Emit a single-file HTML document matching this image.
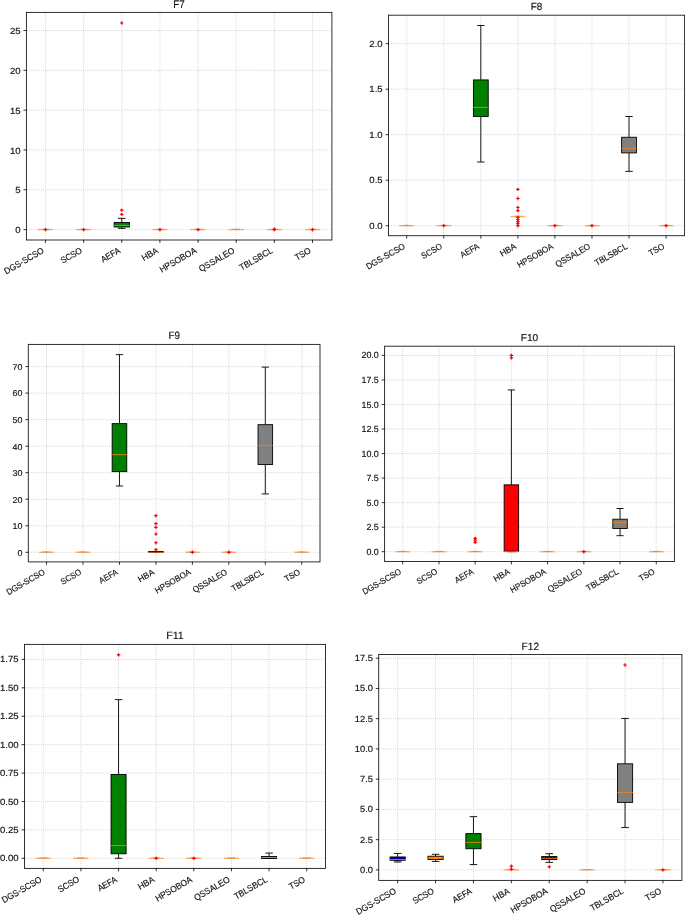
<!DOCTYPE html>
<html><head><meta charset="utf-8"><style>
html,body{margin:0;padding:0;background:#fff;width:685px;height:915px;overflow:hidden}
svg{display:block;will-change:transform}
text{text-rendering:geometricPrecision;font-family:"Liberation Sans",sans-serif;fill:#111;stroke:#111;stroke-width:0.15px}
</style></head><body>
<svg width="685" height="915" viewBox="0 0 685 915">
<rect width="685" height="915" fill="#fff"/>
<g>
<path d="M27 229.6H331.6 M27 189.78H331.6 M27 149.96H331.6 M27 110.14H331.6 M27 70.32H331.6 M27 30.5H331.6 M45.48 13V240 M83.62 13V240 M121.78 13V240 M159.93 13V240 M198.08 13V240 M236.23 13V240 M274.38 13V240 M312.53 13V240" stroke="#c8c8c8" stroke-width="0.7" stroke-dasharray="1 1" fill="none"/>
<path d="M41.66 229.25H49.29" stroke="#000" stroke-width="0.35" fill="none"/>
<path d="M37.84 229.6H53.11" stroke="#ff7f0e" stroke-width="1.4" stroke-opacity="0.62"/>
<path d="M43.77 229.6H47.18M45.48 227.9V231.3" stroke="#ff0000" stroke-width="1.2"/>
<path d="M79.81 229.25H87.44" stroke="#000" stroke-width="0.35" fill="none"/>
<path d="M76 229.6H91.25" stroke="#ff7f0e" stroke-width="1.4" stroke-opacity="0.62"/>
<path d="M81.92 229.6H85.33M83.62 227.9V231.3" stroke="#ff0000" stroke-width="1.2"/>
<path d="M121.78 222.51V218.37M121.78 226.97V228.33M117.96 218.37H125.59M117.96 228.33H125.59" stroke="#000" stroke-width="0.9" fill="none"/>
<rect x="114.15" y="222.51" width="15.26" height="4.46" fill="#008000" stroke="#000" stroke-width="0.9"/>
<path d="M113.85 225.46H129.71" stroke="#ff7f0e" stroke-width="1.0" stroke-opacity="0.8"/>
<path d="M120.08 210.17H123.48M121.78 208.47V211.87" stroke="#ff0000" stroke-width="1.2"/>
<path d="M120.08 214.47H123.48M121.78 212.77V216.17" stroke="#ff0000" stroke-width="1.2"/>
<path d="M120.08 23.01H123.48M121.78 21.31V24.71" stroke="#ff0000" stroke-width="1.2"/>
<path d="M156.11 229.25H163.74" stroke="#000" stroke-width="0.35" fill="none"/>
<path d="M152.3 229.6H167.56" stroke="#ff7f0e" stroke-width="1.4" stroke-opacity="0.62"/>
<path d="M158.23 229.6H161.63M159.93 227.9V231.3" stroke="#ff0000" stroke-width="1.2"/>
<path d="M194.26 229.25H201.89" stroke="#000" stroke-width="0.35" fill="none"/>
<path d="M190.45 229.6H205.71" stroke="#ff7f0e" stroke-width="1.4" stroke-opacity="0.62"/>
<path d="M196.38 229.6H199.78M198.08 227.9V231.3" stroke="#ff0000" stroke-width="1.2"/>
<path d="M232.41 229.25H240.04" stroke="#000" stroke-width="0.35" fill="none"/>
<path d="M228.6 229.6H243.86" stroke="#ff7f0e" stroke-width="1.4" stroke-opacity="0.62"/>
<path d="M270.56 229.25H278.19" stroke="#000" stroke-width="0.35" fill="none"/>
<path d="M266.75 229.6H282" stroke="#ff7f0e" stroke-width="1.4" stroke-opacity="0.62"/>
<path d="M272.68 229.6H276.07M274.38 227.9V231.3" stroke="#ff0000" stroke-width="1.2"/>
<path d="M272.68 229.2H276.07M274.38 227.5V230.9" stroke="#ff0000" stroke-width="1.2"/>
<path d="M308.71 229.25H316.34" stroke="#000" stroke-width="0.35" fill="none"/>
<path d="M304.9 229.6H320.16" stroke="#ff7f0e" stroke-width="1.4" stroke-opacity="0.62"/>
<path d="M310.83 229.6H314.23M312.53 227.9V231.3" stroke="#ff0000" stroke-width="1.2"/>
<rect x="26.4" y="12.4" width="305.5" height="227.6" fill="none" stroke="#1a1a1a" stroke-width="0.9"/>
<path d="M26.4 229.6H23.5 M26.4 189.78H23.5 M26.4 149.96H23.5 M26.4 110.14H23.5 M26.4 70.32H23.5 M26.4 30.5H23.5 M45.48 240V242.9 M83.62 240V242.9 M121.78 240V242.9 M159.93 240V242.9 M198.08 240V242.9 M236.23 240V242.9 M274.38 240V242.9 M312.53 240V242.9" stroke="#000" stroke-width="0.8"/>
<text x="20.6" y="233.15" text-anchor="end" font-size="8.87" textLength="5.33" lengthAdjust="spacingAndGlyphs">0</text>
<text x="20.6" y="193.33" text-anchor="end" font-size="8.87" textLength="5.33" lengthAdjust="spacingAndGlyphs">5</text>
<text x="20.6" y="153.51" text-anchor="end" font-size="8.87" textLength="10.65" lengthAdjust="spacingAndGlyphs">10</text>
<text x="20.6" y="113.69" text-anchor="end" font-size="8.87" textLength="10.65" lengthAdjust="spacingAndGlyphs">15</text>
<text x="20.6" y="73.87" text-anchor="end" font-size="8.87" textLength="10.65" lengthAdjust="spacingAndGlyphs">20</text>
<text x="20.6" y="34.05" text-anchor="end" font-size="8.87" textLength="10.65" lengthAdjust="spacingAndGlyphs">25</text>
<text transform="translate(44.58 252.3) rotate(-30)" text-anchor="end" font-size="8.87" textLength="44.32" lengthAdjust="spacingAndGlyphs">DGS-SCSO</text>
<text transform="translate(82.72 252.3) rotate(-30)" text-anchor="end" font-size="8.87" textLength="23.06" lengthAdjust="spacingAndGlyphs">SCSO</text>
<text transform="translate(120.88 252.3) rotate(-30)" text-anchor="end" font-size="8.87" textLength="20.79" lengthAdjust="spacingAndGlyphs">AEFA</text>
<text transform="translate(159.03 252.3) rotate(-30)" text-anchor="end" font-size="8.87" textLength="17.76" lengthAdjust="spacingAndGlyphs">HBA</text>
<text transform="translate(197.18 252.3) rotate(-30)" text-anchor="end" font-size="8.87" textLength="41" lengthAdjust="spacingAndGlyphs">HPSOBOA</text>
<text transform="translate(235.33 252.3) rotate(-30)" text-anchor="end" font-size="8.87" textLength="39.63" lengthAdjust="spacingAndGlyphs">QSSALEO</text>
<text transform="translate(273.48 252.3) rotate(-30)" text-anchor="end" font-size="8.87" textLength="36.93" lengthAdjust="spacingAndGlyphs">TBLSBCL</text>
<text transform="translate(311.63 252.3) rotate(-30)" text-anchor="end" font-size="8.87" textLength="17.01" lengthAdjust="spacingAndGlyphs">TSO</text>
<text x="179" y="7.8" text-anchor="middle" font-size="11.2" textLength="11.51" lengthAdjust="spacingAndGlyphs">F7</text>
<path d="M389 225.7H684.6 M389 180.2H684.6 M389 134.7H684.6 M389 89.2H684.6 M389 43.7H684.6 M406.72 16V235.7 M443.77 16V235.7 M480.82 16V235.7 M517.88 16V235.7 M554.92 16V235.7 M591.98 16V235.7 M629.02 16V235.7 M666.08 16V235.7" stroke="#c8c8c8" stroke-width="0.7" stroke-dasharray="1 1" fill="none"/>
<path d="M403.02 225.35H410.43" stroke="#000" stroke-width="0.35" fill="none"/>
<path d="M399.31 225.7H414.13" stroke="#ff7f0e" stroke-width="1.4" stroke-opacity="0.62"/>
<path d="M440.07 225.35H447.48" stroke="#000" stroke-width="0.35" fill="none"/>
<path d="M436.36 225.7H451.19" stroke="#ff7f0e" stroke-width="1.4" stroke-opacity="0.62"/>
<path d="M442.07 225.7H445.47M443.77 224V227.4" stroke="#ff0000" stroke-width="1.2"/>
<path d="M480.82 79.92V25.5M480.82 116.5V162M477.12 25.5H484.53M477.12 162H484.53" stroke="#000" stroke-width="0.9" fill="none"/>
<rect x="473.41" y="79.92" width="14.82" height="36.58" fill="#008000" stroke="#000" stroke-width="0.9"/>
<path d="M473.11 107.4H488.54" stroke="#ff7f0e" stroke-width="1.0" stroke-opacity="0.8"/>
<path d="M514.17 216.25H521.58" stroke="#000" stroke-width="0.35" fill="none"/>
<path d="M510.46 216.51H525.28" stroke="#ff7f0e" stroke-width="1.4" stroke-opacity="0.62"/>
<path d="M516.17 189.39H519.58M517.88 187.69V191.09" stroke="#ff0000" stroke-width="1.2"/>
<path d="M516.17 198.49H519.58M517.88 196.79V200.19" stroke="#ff0000" stroke-width="1.2"/>
<path d="M516.17 207.5H519.58M517.88 205.8V209.2" stroke="#ff0000" stroke-width="1.2"/>
<path d="M516.17 210.59H519.58M517.88 208.89V212.29" stroke="#ff0000" stroke-width="1.2"/>
<path d="M516.17 217.33H519.58M517.88 215.63V219.03" stroke="#ff0000" stroke-width="1.2"/>
<path d="M516.17 219.51H519.58M517.88 217.81V221.21" stroke="#ff0000" stroke-width="1.2"/>
<path d="M516.17 221.51H519.58M517.88 219.81V223.21" stroke="#ff0000" stroke-width="1.2"/>
<path d="M516.17 223.42H519.58M517.88 221.72V225.12" stroke="#ff0000" stroke-width="1.2"/>
<path d="M516.17 225.7H519.58M517.88 224V227.4" stroke="#ff0000" stroke-width="1.2"/>
<path d="M551.22 225.35H558.63" stroke="#000" stroke-width="0.35" fill="none"/>
<path d="M547.51 225.7H562.33" stroke="#ff7f0e" stroke-width="1.4" stroke-opacity="0.62"/>
<path d="M553.22 225.7H556.62M554.92 224V227.4" stroke="#ff0000" stroke-width="1.2"/>
<path d="M588.27 225.35H595.68" stroke="#000" stroke-width="0.35" fill="none"/>
<path d="M584.57 225.7H599.38" stroke="#ff7f0e" stroke-width="1.4" stroke-opacity="0.62"/>
<path d="M590.27 225.7H593.68M591.98 224V227.4" stroke="#ff0000" stroke-width="1.2"/>
<path d="M629.02 137.25V116.5M629.02 152.9V171.37M625.32 116.5H632.73M625.32 171.37H632.73" stroke="#000" stroke-width="0.9" fill="none"/>
<rect x="621.62" y="137.25" width="14.82" height="15.65" fill="#808080" stroke="#000" stroke-width="0.9"/>
<path d="M621.32 148.35H636.73" stroke="#ff7f0e" stroke-width="1.0" stroke-opacity="0.8"/>
<path d="M662.37 225.35H669.78" stroke="#000" stroke-width="0.35" fill="none"/>
<path d="M658.67 225.7H673.49" stroke="#ff7f0e" stroke-width="1.4" stroke-opacity="0.62"/>
<path d="M664.38 225.7H667.78M666.08 224V227.4" stroke="#ff0000" stroke-width="1.2"/>
<rect x="388.5" y="15.2" width="296.1" height="220.5" fill="none" stroke="#1a1a1a" stroke-width="0.9"/>
<path d="M388.5 225.7H385.6 M388.5 180.2H385.6 M388.5 134.7H385.6 M388.5 89.2H385.6 M388.5 43.7H385.6 M406.72 235.7V238.6 M443.77 235.7V238.6 M480.82 235.7V238.6 M517.88 235.7V238.6 M554.92 235.7V238.6 M591.98 235.7V238.6 M629.02 235.7V238.6 M666.08 235.7V238.6" stroke="#000" stroke-width="0.8"/>
<text x="382.7" y="228.75" text-anchor="end" font-size="8.87" textLength="13.31" lengthAdjust="spacingAndGlyphs">0.0</text>
<text x="382.7" y="183.25" text-anchor="end" font-size="8.87" textLength="13.31" lengthAdjust="spacingAndGlyphs">0.5</text>
<text x="382.7" y="137.75" text-anchor="end" font-size="8.87" textLength="13.31" lengthAdjust="spacingAndGlyphs">1.0</text>
<text x="382.7" y="92.25" text-anchor="end" font-size="8.87" textLength="13.31" lengthAdjust="spacingAndGlyphs">1.5</text>
<text x="382.7" y="46.75" text-anchor="end" font-size="8.87" textLength="13.31" lengthAdjust="spacingAndGlyphs">2.0</text>
<text transform="translate(405.82 248) rotate(-30)" text-anchor="end" font-size="8.69" textLength="43.44" lengthAdjust="spacingAndGlyphs">DGS-SCSO</text>
<text transform="translate(442.88 248) rotate(-30)" text-anchor="end" font-size="8.69" textLength="22.6" lengthAdjust="spacingAndGlyphs">SCSO</text>
<text transform="translate(479.93 248) rotate(-30)" text-anchor="end" font-size="8.69" textLength="20.37" lengthAdjust="spacingAndGlyphs">AEFA</text>
<text transform="translate(516.98 248) rotate(-30)" text-anchor="end" font-size="8.69" textLength="17.41" lengthAdjust="spacingAndGlyphs">HBA</text>
<text transform="translate(554.02 248) rotate(-30)" text-anchor="end" font-size="8.69" textLength="40.18" lengthAdjust="spacingAndGlyphs">HPSOBOA</text>
<text transform="translate(591.08 248) rotate(-30)" text-anchor="end" font-size="8.69" textLength="38.84" lengthAdjust="spacingAndGlyphs">QSSALEO</text>
<text transform="translate(628.12 248) rotate(-30)" text-anchor="end" font-size="8.69" textLength="36.19" lengthAdjust="spacingAndGlyphs">TBLSBCL</text>
<text transform="translate(665.18 248) rotate(-30)" text-anchor="end" font-size="8.69" textLength="16.67" lengthAdjust="spacingAndGlyphs">TSO</text>
<text x="536.4" y="10.3" text-anchor="middle" font-size="10.3" textLength="11.51" lengthAdjust="spacingAndGlyphs">F8</text>
<path d="M29 552.3H320 M29 525.77H320 M29 499.24H320 M29 472.71H320 M29 446.18H320 M29 419.65H320 M29 393.12H320 M29 366.59H320 M46.53 345V561.9 M82.99 345V561.9 M119.46 345V561.9 M155.92 345V561.9 M192.38 345V561.9 M228.84 345V561.9 M265.31 345V561.9 M301.77 345V561.9" stroke="#c8c8c8" stroke-width="0.7" stroke-dasharray="1 1" fill="none"/>
<path d="M42.88 551.95H50.18" stroke="#000" stroke-width="0.35" fill="none"/>
<path d="M39.24 552.3H53.82" stroke="#ff7f0e" stroke-width="1.4" stroke-opacity="0.62"/>
<path d="M79.35 551.95H86.64" stroke="#000" stroke-width="0.35" fill="none"/>
<path d="M75.7 552.3H90.29" stroke="#ff7f0e" stroke-width="1.4" stroke-opacity="0.62"/>
<path d="M119.46 423.63V354.65M119.46 471.65V485.97M115.81 354.65H123.1M115.81 485.97H123.1" stroke="#000" stroke-width="0.9" fill="none"/>
<rect x="112.16" y="423.63" width="14.59" height="48.02" fill="#008000" stroke="#000" stroke-width="0.9"/>
<path d="M111.86 454.67H127.05" stroke="#ff7f0e" stroke-width="1.0" stroke-opacity="0.8"/>
<path d="M155.92 551.5V551.5M155.92 552.3V552.3M152.27 551.5H159.56M152.27 552.3H159.56" stroke="#000" stroke-width="0.9" fill="none"/>
<rect x="148.63" y="551.5" width="14.59" height="0.8" fill="none" stroke="#000" stroke-width="0.9"/>
<path d="M148.33 552.3H163.51" stroke="#ff7f0e" stroke-width="1.0" stroke-opacity="0.8"/>
<path d="M154.22 515.69H157.62M155.92 513.99V517.39" stroke="#ff0000" stroke-width="1.2"/>
<path d="M154.22 523.65H157.62M155.92 521.95V525.35" stroke="#ff0000" stroke-width="1.2"/>
<path d="M154.22 527.36H157.62M155.92 525.66V529.06" stroke="#ff0000" stroke-width="1.2"/>
<path d="M154.22 533.99H157.62M155.92 532.29V535.69" stroke="#ff0000" stroke-width="1.2"/>
<path d="M154.22 542.75H157.62M155.92 541.05V544.45" stroke="#ff0000" stroke-width="1.2"/>
<path d="M154.22 549.65H157.62M155.92 547.95V551.35" stroke="#ff0000" stroke-width="1.2"/>
<path d="M188.73 551.95H196.03" stroke="#000" stroke-width="0.35" fill="none"/>
<path d="M185.09 552.3H199.67" stroke="#ff7f0e" stroke-width="1.4" stroke-opacity="0.62"/>
<path d="M190.68 552.3H194.08M192.38 550.6V554" stroke="#ff0000" stroke-width="1.2"/>
<path d="M225.2 551.95H232.49" stroke="#000" stroke-width="0.35" fill="none"/>
<path d="M221.55 552.3H236.14" stroke="#ff7f0e" stroke-width="1.4" stroke-opacity="0.62"/>
<path d="M227.14 552.3H230.54M228.84 550.6V554" stroke="#ff0000" stroke-width="1.2"/>
<path d="M265.31 424.69V367.12M265.31 464.49V493.93M261.66 367.12H268.95M261.66 493.93H268.95" stroke="#000" stroke-width="0.9" fill="none"/>
<rect x="258.01" y="424.69" width="14.59" height="39.8" fill="#808080" stroke="#000" stroke-width="0.9"/>
<path d="M257.71 445.65H272.9" stroke="#ff7f0e" stroke-width="1.0" stroke-opacity="0.8"/>
<path d="M298.12 551.95H305.42" stroke="#000" stroke-width="0.35" fill="none"/>
<path d="M294.48 552.3H309.06" stroke="#ff7f0e" stroke-width="1.4" stroke-opacity="0.62"/>
<rect x="28.3" y="344.4" width="291.7" height="217.5" fill="none" stroke="#1a1a1a" stroke-width="0.9"/>
<path d="M28.3 552.3H25.4 M28.3 525.77H25.4 M28.3 499.24H25.4 M28.3 472.71H25.4 M28.3 446.18H25.4 M28.3 419.65H25.4 M28.3 393.12H25.4 M28.3 366.59H25.4 M46.53 561.9V564.8 M82.99 561.9V564.8 M119.46 561.9V564.8 M155.92 561.9V564.8 M192.38 561.9V564.8 M228.84 561.9V564.8 M265.31 561.9V564.8 M301.77 561.9V564.8" stroke="#000" stroke-width="0.8"/>
<text x="22.5" y="555.65" text-anchor="end" font-size="8.51" textLength="4.95" lengthAdjust="spacingAndGlyphs">0</text>
<text x="22.5" y="529.12" text-anchor="end" font-size="8.51" textLength="9.91" lengthAdjust="spacingAndGlyphs">10</text>
<text x="22.5" y="502.59" text-anchor="end" font-size="8.51" textLength="9.91" lengthAdjust="spacingAndGlyphs">20</text>
<text x="22.5" y="476.06" text-anchor="end" font-size="8.51" textLength="9.91" lengthAdjust="spacingAndGlyphs">30</text>
<text x="22.5" y="449.53" text-anchor="end" font-size="8.51" textLength="9.91" lengthAdjust="spacingAndGlyphs">40</text>
<text x="22.5" y="423" text-anchor="end" font-size="8.51" textLength="9.91" lengthAdjust="spacingAndGlyphs">50</text>
<text x="22.5" y="396.47" text-anchor="end" font-size="8.51" textLength="9.91" lengthAdjust="spacingAndGlyphs">60</text>
<text x="22.5" y="369.94" text-anchor="end" font-size="8.51" textLength="9.91" lengthAdjust="spacingAndGlyphs">70</text>
<text transform="translate(45.63 573.8) rotate(-30)" text-anchor="end" font-size="8.6" textLength="42.99" lengthAdjust="spacingAndGlyphs">DGS-SCSO</text>
<text transform="translate(82.09 573.8) rotate(-30)" text-anchor="end" font-size="8.6" textLength="22.37" lengthAdjust="spacingAndGlyphs">SCSO</text>
<text transform="translate(118.56 573.8) rotate(-30)" text-anchor="end" font-size="8.6" textLength="20.16" lengthAdjust="spacingAndGlyphs">AEFA</text>
<text transform="translate(155.02 573.8) rotate(-30)" text-anchor="end" font-size="8.6" textLength="17.23" lengthAdjust="spacingAndGlyphs">HBA</text>
<text transform="translate(191.48 573.8) rotate(-30)" text-anchor="end" font-size="8.6" textLength="39.77" lengthAdjust="spacingAndGlyphs">HPSOBOA</text>
<text transform="translate(227.94 573.8) rotate(-30)" text-anchor="end" font-size="8.6" textLength="38.45" lengthAdjust="spacingAndGlyphs">QSSALEO</text>
<text transform="translate(264.41 573.8) rotate(-30)" text-anchor="end" font-size="8.6" textLength="35.83" lengthAdjust="spacingAndGlyphs">TBLSBCL</text>
<text transform="translate(300.87 573.8) rotate(-30)" text-anchor="end" font-size="8.6" textLength="16.5" lengthAdjust="spacingAndGlyphs">TSO</text>
<text x="174.15" y="339.4" text-anchor="middle" font-size="10.6" textLength="11.51" lengthAdjust="spacingAndGlyphs">F9</text>
<path d="M385 551.7H674.4 M385 527.16H674.4 M385 502.63H674.4 M385 478.09H674.4 M385 453.55H674.4 M385 429.01H674.4 M385 404.48H674.4 M385 379.94H674.4 M385 355.4H674.4 M402.71 347V561.5 M438.94 347V561.5 M475.16 347V561.5 M511.39 347V561.5 M547.61 347V561.5 M583.84 347V561.5 M620.06 347V561.5 M656.29 347V561.5" stroke="#c8c8c8" stroke-width="0.7" stroke-dasharray="1 1" fill="none"/>
<path d="M399.09 551.35H406.34" stroke="#000" stroke-width="0.35" fill="none"/>
<path d="M395.47 551.7H409.96" stroke="#ff7f0e" stroke-width="1.4" stroke-opacity="0.62"/>
<path d="M435.31 551.35H442.56" stroke="#000" stroke-width="0.35" fill="none"/>
<path d="M431.69 551.7H446.18" stroke="#ff7f0e" stroke-width="1.4" stroke-opacity="0.62"/>
<path d="M471.54 551.35H478.79" stroke="#000" stroke-width="0.35" fill="none"/>
<path d="M467.92 551.7H482.41" stroke="#ff7f0e" stroke-width="1.4" stroke-opacity="0.62"/>
<path d="M473.46 538.35H476.86M475.16 536.65V540.05" stroke="#ff0000" stroke-width="1.2"/>
<path d="M473.46 540.22H476.86M475.16 538.52V541.92" stroke="#ff0000" stroke-width="1.2"/>
<path d="M473.46 542.28H476.86M475.16 540.58V543.98" stroke="#ff0000" stroke-width="1.2"/>
<path d="M511.39 484.86V389.95M511.39 551.21V551.7M507.76 389.95H515.01M507.76 551.7H515.01" stroke="#000" stroke-width="0.9" fill="none"/>
<rect x="504.14" y="484.86" width="14.49" height="66.35" fill="#ff0000" stroke="#000" stroke-width="0.9"/>
<path d="M503.84 551.7H518.93" stroke="#ff7f0e" stroke-width="1.0" stroke-opacity="0.8"/>
<path d="M509.69 355.4H513.09M511.39 353.7V357.1" stroke="#ff0000" stroke-width="1.2"/>
<path d="M509.69 357.85H513.09M511.39 356.15V359.55" stroke="#ff0000" stroke-width="1.2"/>
<path d="M543.99 551.35H551.23" stroke="#000" stroke-width="0.35" fill="none"/>
<path d="M540.37 551.7H554.86" stroke="#ff7f0e" stroke-width="1.4" stroke-opacity="0.62"/>
<path d="M580.22 551.35H587.46" stroke="#000" stroke-width="0.35" fill="none"/>
<path d="M576.59 551.7H591.08" stroke="#ff7f0e" stroke-width="1.4" stroke-opacity="0.62"/>
<path d="M582.14 551.7H585.54M583.84 550V553.4" stroke="#ff0000" stroke-width="1.2"/>
<path d="M620.06 519.21V508.51M620.06 528.54V535.7M616.44 508.51H623.68M616.44 535.7H623.68" stroke="#000" stroke-width="0.9" fill="none"/>
<rect x="612.82" y="519.21" width="14.49" height="9.32" fill="#808080" stroke="#000" stroke-width="0.9"/>
<path d="M612.52 522.45H627.61" stroke="#ff7f0e" stroke-width="1.0" stroke-opacity="0.8"/>
<path d="M652.66 551.35H659.91" stroke="#000" stroke-width="0.35" fill="none"/>
<path d="M649.04 551.7H663.53" stroke="#ff7f0e" stroke-width="1.4" stroke-opacity="0.62"/>
<rect x="384.6" y="346.2" width="289.8" height="215.3" fill="none" stroke="#1a1a1a" stroke-width="0.9"/>
<path d="M384.6 551.7H381.7 M384.6 527.16H381.7 M384.6 502.63H381.7 M384.6 478.09H381.7 M384.6 453.55H381.7 M384.6 429.01H381.7 M384.6 404.48H381.7 M384.6 379.94H381.7 M384.6 355.4H381.7 M402.71 561.5V564.4 M438.94 561.5V564.4 M475.16 561.5V564.4 M511.39 561.5V564.4 M547.61 561.5V564.4 M583.84 561.5V564.4 M620.06 561.5V564.4 M656.29 561.5V564.4" stroke="#000" stroke-width="0.8"/>
<text x="378.8" y="554.75" text-anchor="end" font-size="8.87" textLength="12.38" lengthAdjust="spacingAndGlyphs">0.0</text>
<text x="378.8" y="530.21" text-anchor="end" font-size="8.87" textLength="12.38" lengthAdjust="spacingAndGlyphs">2.5</text>
<text x="378.8" y="505.68" text-anchor="end" font-size="8.87" textLength="12.38" lengthAdjust="spacingAndGlyphs">5.0</text>
<text x="378.8" y="481.14" text-anchor="end" font-size="8.87" textLength="12.38" lengthAdjust="spacingAndGlyphs">7.5</text>
<text x="378.8" y="456.6" text-anchor="end" font-size="8.87" textLength="17.33" lengthAdjust="spacingAndGlyphs">10.0</text>
<text x="378.8" y="432.06" text-anchor="end" font-size="8.87" textLength="17.33" lengthAdjust="spacingAndGlyphs">12.5</text>
<text x="378.8" y="407.53" text-anchor="end" font-size="8.87" textLength="17.33" lengthAdjust="spacingAndGlyphs">15.0</text>
<text x="378.8" y="382.99" text-anchor="end" font-size="8.87" textLength="17.33" lengthAdjust="spacingAndGlyphs">17.5</text>
<text x="378.8" y="358.45" text-anchor="end" font-size="8.87" textLength="17.33" lengthAdjust="spacingAndGlyphs">20.0</text>
<text transform="translate(401.81 573.3) rotate(-30)" text-anchor="end" font-size="8.6" textLength="42.99" lengthAdjust="spacingAndGlyphs">DGS-SCSO</text>
<text transform="translate(438.04 573.3) rotate(-30)" text-anchor="end" font-size="8.6" textLength="22.37" lengthAdjust="spacingAndGlyphs">SCSO</text>
<text transform="translate(474.26 573.3) rotate(-30)" text-anchor="end" font-size="8.6" textLength="20.16" lengthAdjust="spacingAndGlyphs">AEFA</text>
<text transform="translate(510.49 573.3) rotate(-30)" text-anchor="end" font-size="8.6" textLength="17.23" lengthAdjust="spacingAndGlyphs">HBA</text>
<text transform="translate(546.71 573.3) rotate(-30)" text-anchor="end" font-size="8.6" textLength="39.77" lengthAdjust="spacingAndGlyphs">HPSOBOA</text>
<text transform="translate(582.94 573.3) rotate(-30)" text-anchor="end" font-size="8.6" textLength="38.45" lengthAdjust="spacingAndGlyphs">QSSALEO</text>
<text transform="translate(619.16 573.3) rotate(-30)" text-anchor="end" font-size="8.6" textLength="35.83" lengthAdjust="spacingAndGlyphs">TBLSBCL</text>
<text transform="translate(655.39 573.3) rotate(-30)" text-anchor="end" font-size="8.6" textLength="16.5" lengthAdjust="spacingAndGlyphs">TSO</text>
<text x="529.5" y="341.3" text-anchor="middle" font-size="10.1" textLength="17.55" lengthAdjust="spacingAndGlyphs">F10</text>
<path d="M25 858.3H325.5 M25 829.88H325.5 M25 801.47H325.5 M25 773.05H325.5 M25 744.64H325.5 M25 716.22H325.5 M25 687.81H325.5 M25 659.39H325.5 M43.31 645V868.4 M80.94 645V868.4 M118.56 645V868.4 M156.19 645V868.4 M193.81 645V868.4 M231.44 645V868.4 M269.06 645V868.4 M306.69 645V868.4" stroke="#c8c8c8" stroke-width="0.7" stroke-dasharray="1 1" fill="none"/>
<path d="M39.55 857.95H47.08" stroke="#000" stroke-width="0.35" fill="none"/>
<path d="M35.79 858.3H50.84" stroke="#ff7f0e" stroke-width="1.4" stroke-opacity="0.62"/>
<path d="M77.17 857.95H84.7" stroke="#000" stroke-width="0.35" fill="none"/>
<path d="M73.41 858.3H88.46" stroke="#ff7f0e" stroke-width="1.4" stroke-opacity="0.62"/>
<path d="M118.56 774.53V699.63M118.56 853.75V858.3M114.8 699.63H122.33M114.8 858.3H122.33" stroke="#000" stroke-width="0.9" fill="none"/>
<rect x="111.04" y="774.53" width="15.05" height="79.22" fill="#008000" stroke="#000" stroke-width="0.9"/>
<path d="M110.74 845.57H126.39" stroke="#ff7f0e" stroke-width="1.0" stroke-opacity="0.8"/>
<path d="M116.86 654.85H120.26M118.56 653.15V656.55" stroke="#ff0000" stroke-width="1.2"/>
<path d="M152.43 857.95H159.95" stroke="#000" stroke-width="0.35" fill="none"/>
<path d="M148.66 858.3H163.71" stroke="#ff7f0e" stroke-width="1.4" stroke-opacity="0.62"/>
<path d="M154.49 858.3H157.89M156.19 856.6V860" stroke="#ff0000" stroke-width="1.2"/>
<path d="M190.05 857.95H197.57" stroke="#000" stroke-width="0.35" fill="none"/>
<path d="M186.29 858.3H201.34" stroke="#ff7f0e" stroke-width="1.4" stroke-opacity="0.62"/>
<path d="M192.11 858.3H195.51M193.81 856.6V860" stroke="#ff0000" stroke-width="1.2"/>
<path d="M227.68 857.95H235.2" stroke="#000" stroke-width="0.35" fill="none"/>
<path d="M223.91 858.3H238.96" stroke="#ff7f0e" stroke-width="1.4" stroke-opacity="0.62"/>
<path d="M269.06 856.48V853.07M269.06 858.53V858.3M265.3 853.07H272.82M265.3 858.3H272.82" stroke="#000" stroke-width="0.9" fill="none"/>
<rect x="261.54" y="856.48" width="15.05" height="2.05" fill="#808080" stroke="#000" stroke-width="0.9"/>
<path d="M261.24 857.5H276.89" stroke="#ff7f0e" stroke-width="1.0" stroke-opacity="0.8"/>
<path d="M302.93 857.95H310.45" stroke="#000" stroke-width="0.35" fill="none"/>
<path d="M299.16 858.3H314.21" stroke="#ff7f0e" stroke-width="1.4" stroke-opacity="0.62"/>
<rect x="24.5" y="644.4" width="301" height="224" fill="none" stroke="#1a1a1a" stroke-width="0.9"/>
<path d="M24.5 858.3H21.6 M24.5 829.88H21.6 M24.5 801.47H21.6 M24.5 773.05H21.6 M24.5 744.64H21.6 M24.5 716.22H21.6 M24.5 687.81H21.6 M24.5 659.39H21.6 M43.31 868.4V871.3 M80.94 868.4V871.3 M118.56 868.4V871.3 M156.19 868.4V871.3 M193.81 868.4V871.3 M231.44 868.4V871.3 M269.06 868.4V871.3 M306.69 868.4V871.3" stroke="#000" stroke-width="0.8"/>
<text x="18.7" y="861.35" text-anchor="end" font-size="8.87" textLength="18.64" lengthAdjust="spacingAndGlyphs">0.00</text>
<text x="18.7" y="832.93" text-anchor="end" font-size="8.87" textLength="18.64" lengthAdjust="spacingAndGlyphs">0.25</text>
<text x="18.7" y="804.52" text-anchor="end" font-size="8.87" textLength="18.64" lengthAdjust="spacingAndGlyphs">0.50</text>
<text x="18.7" y="776.1" text-anchor="end" font-size="8.87" textLength="18.64" lengthAdjust="spacingAndGlyphs">0.75</text>
<text x="18.7" y="747.69" text-anchor="end" font-size="8.87" textLength="18.64" lengthAdjust="spacingAndGlyphs">1.00</text>
<text x="18.7" y="719.27" text-anchor="end" font-size="8.87" textLength="18.64" lengthAdjust="spacingAndGlyphs">1.25</text>
<text x="18.7" y="690.86" text-anchor="end" font-size="8.87" textLength="18.64" lengthAdjust="spacingAndGlyphs">1.50</text>
<text x="18.7" y="662.44" text-anchor="end" font-size="8.87" textLength="18.64" lengthAdjust="spacingAndGlyphs">1.75</text>
<text transform="translate(42.41 881.2) rotate(-30)" text-anchor="end" font-size="8.87" textLength="44.32" lengthAdjust="spacingAndGlyphs">DGS-SCSO</text>
<text transform="translate(80.04 881.2) rotate(-30)" text-anchor="end" font-size="8.87" textLength="23.06" lengthAdjust="spacingAndGlyphs">SCSO</text>
<text transform="translate(117.66 881.2) rotate(-30)" text-anchor="end" font-size="8.87" textLength="20.79" lengthAdjust="spacingAndGlyphs">AEFA</text>
<text transform="translate(155.29 881.2) rotate(-30)" text-anchor="end" font-size="8.87" textLength="17.76" lengthAdjust="spacingAndGlyphs">HBA</text>
<text transform="translate(192.91 881.2) rotate(-30)" text-anchor="end" font-size="8.87" textLength="41" lengthAdjust="spacingAndGlyphs">HPSOBOA</text>
<text transform="translate(230.54 881.2) rotate(-30)" text-anchor="end" font-size="8.87" textLength="39.63" lengthAdjust="spacingAndGlyphs">QSSALEO</text>
<text transform="translate(268.16 881.2) rotate(-30)" text-anchor="end" font-size="8.87" textLength="36.93" lengthAdjust="spacingAndGlyphs">TBLSBCL</text>
<text transform="translate(305.79 881.2) rotate(-30)" text-anchor="end" font-size="8.87" textLength="17.01" lengthAdjust="spacingAndGlyphs">TSO</text>
<text x="175" y="639.4" text-anchor="middle" font-size="10.6" textLength="17.55" lengthAdjust="spacingAndGlyphs">F11</text>
<path d="M379 869.9H681.9 M379 839.66H681.9 M379 809.41H681.9 M379 779.17H681.9 M379 748.93H681.9 M379 718.69H681.9 M379 688.44H681.9 M379 658.2H681.9 M397.65 655V880.4 M435.55 655V880.4 M473.45 655V880.4 M511.35 655V880.4 M549.25 655V880.4 M587.15 655V880.4 M625.05 655V880.4 M662.95 655V880.4" stroke="#c8c8c8" stroke-width="0.7" stroke-dasharray="1 1" fill="none"/>
<path d="M397.65 856.96V853.45M393.86 853.45H401.44" stroke="#000" stroke-width="0.9" fill="none"/>
<rect x="393.86" y="860.22" width="7.58" height="2.54" fill="#6e6e6e"/>
<path d="M397.65 860.22V861.42" stroke="#000" stroke-width="0.9"/>
<rect x="390.07" y="856.96" width="15.16" height="3.27" fill="#0000b0" stroke="#000" stroke-width="0.9"/>
<path d="M389.77 859.5H405.53" stroke="#ff7f0e" stroke-width="1.0" stroke-opacity="0.8"/>
<path d="M435.55 856.23V854.29M435.55 859.5V861.43M431.76 854.29H439.34M431.76 861.43H439.34" stroke="#000" stroke-width="0.9" fill="none"/>
<rect x="427.97" y="856.23" width="15.16" height="3.27" fill="#ff8c00" stroke="#000" stroke-width="0.9"/>
<path d="M427.67 857.8H443.43" stroke="#ff7f0e" stroke-width="1.0" stroke-opacity="0.8"/>
<path d="M473.45 833.61V816.67M473.45 848.73V864.58M469.66 816.67H477.24M469.66 864.58H477.24" stroke="#000" stroke-width="0.9" fill="none"/>
<rect x="465.87" y="833.61" width="15.16" height="15.12" fill="#008000" stroke="#000" stroke-width="0.9"/>
<path d="M465.57 842.44H481.33" stroke="#ff7f0e" stroke-width="1.0" stroke-opacity="0.8"/>
<path d="M507.56 869.55H515.14" stroke="#000" stroke-width="0.35" fill="none"/>
<path d="M503.77 869.9H518.93" stroke="#ff7f0e" stroke-width="1.4" stroke-opacity="0.62"/>
<path d="M509.65 866.15H513.05M511.35 864.45V867.85" stroke="#ff0000" stroke-width="1.2"/>
<path d="M509.65 869.05H513.05M511.35 867.35V870.75" stroke="#ff0000" stroke-width="1.2"/>
<path d="M549.25 856.59V853.69M549.25 859.62V862.4M545.46 853.69H553.04M545.46 862.4H553.04" stroke="#000" stroke-width="0.9" fill="none"/>
<rect x="541.67" y="856.59" width="15.16" height="3.02" fill="#3a0a40" stroke="#000" stroke-width="0.9"/>
<path d="M541.37 858.41H557.13" stroke="#ff7f0e" stroke-width="1.0" stroke-opacity="0.8"/>
<path d="M547.55 866.88H550.95M549.25 865.18V868.58" stroke="#ff0000" stroke-width="1.2"/>
<path d="M583.36 869.55H590.94" stroke="#000" stroke-width="0.35" fill="none"/>
<path d="M579.57 869.9H594.73" stroke="#ff7f0e" stroke-width="1.4" stroke-opacity="0.62"/>
<path d="M625.05 763.81V718.45M625.05 802.4V827.56M621.26 718.45H628.84M621.26 827.56H628.84" stroke="#000" stroke-width="0.9" fill="none"/>
<rect x="617.47" y="763.81" width="15.16" height="38.59" fill="#808080" stroke="#000" stroke-width="0.9"/>
<path d="M617.17 792.48H632.93" stroke="#ff7f0e" stroke-width="1.0" stroke-opacity="0.8"/>
<path d="M623.35 664.98H626.75M625.05 663.28V666.68" stroke="#ff0000" stroke-width="1.2"/>
<path d="M659.16 869.55H666.74" stroke="#000" stroke-width="0.35" fill="none"/>
<path d="M655.37 869.9H670.53" stroke="#ff7f0e" stroke-width="1.4" stroke-opacity="0.62"/>
<path d="M661.25 869.9H664.65M662.95 868.2V871.6" stroke="#ff0000" stroke-width="1.2"/>
<rect x="378.7" y="654.5" width="303.2" height="225.9" fill="none" stroke="#1a1a1a" stroke-width="0.9"/>
<path d="M378.7 869.9H375.8 M378.7 839.66H375.8 M378.7 809.41H375.8 M378.7 779.17H375.8 M378.7 748.93H375.8 M378.7 718.69H375.8 M378.7 688.44H375.8 M378.7 658.2H375.8 M397.65 880.4V883.3 M435.55 880.4V883.3 M473.45 880.4V883.3 M511.35 880.4V883.3 M549.25 880.4V883.3 M587.15 880.4V883.3 M625.05 880.4V883.3 M662.95 880.4V883.3" stroke="#000" stroke-width="0.8"/>
<text x="372.9" y="872.95" text-anchor="end" font-size="8.87" textLength="12.91" lengthAdjust="spacingAndGlyphs">0.0</text>
<text x="372.9" y="842.71" text-anchor="end" font-size="8.87" textLength="12.91" lengthAdjust="spacingAndGlyphs">2.5</text>
<text x="372.9" y="812.46" text-anchor="end" font-size="8.87" textLength="12.91" lengthAdjust="spacingAndGlyphs">5.0</text>
<text x="372.9" y="782.22" text-anchor="end" font-size="8.87" textLength="12.91" lengthAdjust="spacingAndGlyphs">7.5</text>
<text x="372.9" y="751.98" text-anchor="end" font-size="8.87" textLength="18.08" lengthAdjust="spacingAndGlyphs">10.0</text>
<text x="372.9" y="721.74" text-anchor="end" font-size="8.87" textLength="18.08" lengthAdjust="spacingAndGlyphs">12.5</text>
<text x="372.9" y="691.49" text-anchor="end" font-size="8.87" textLength="18.08" lengthAdjust="spacingAndGlyphs">15.0</text>
<text x="372.9" y="661.25" text-anchor="end" font-size="8.87" textLength="18.08" lengthAdjust="spacingAndGlyphs">17.5</text>
<text transform="translate(396.75 892.8) rotate(-30)" text-anchor="end" font-size="8.87" textLength="44.32" lengthAdjust="spacingAndGlyphs">DGS-SCSO</text>
<text transform="translate(434.65 892.8) rotate(-30)" text-anchor="end" font-size="8.87" textLength="23.06" lengthAdjust="spacingAndGlyphs">SCSO</text>
<text transform="translate(472.55 892.8) rotate(-30)" text-anchor="end" font-size="8.87" textLength="20.79" lengthAdjust="spacingAndGlyphs">AEFA</text>
<text transform="translate(510.45 892.8) rotate(-30)" text-anchor="end" font-size="8.87" textLength="17.76" lengthAdjust="spacingAndGlyphs">HBA</text>
<text transform="translate(548.35 892.8) rotate(-30)" text-anchor="end" font-size="8.87" textLength="41" lengthAdjust="spacingAndGlyphs">HPSOBOA</text>
<text transform="translate(586.25 892.8) rotate(-30)" text-anchor="end" font-size="8.87" textLength="39.63" lengthAdjust="spacingAndGlyphs">QSSALEO</text>
<text transform="translate(624.15 892.8) rotate(-30)" text-anchor="end" font-size="8.87" textLength="36.93" lengthAdjust="spacingAndGlyphs">TBLSBCL</text>
<text transform="translate(662.05 892.8) rotate(-30)" text-anchor="end" font-size="8.87" textLength="17.01" lengthAdjust="spacingAndGlyphs">TSO</text>
<text x="530.3" y="649.5" text-anchor="middle" font-size="10.6" textLength="17.55" lengthAdjust="spacingAndGlyphs">F12</text>
</g>
</svg>
</body></html>
